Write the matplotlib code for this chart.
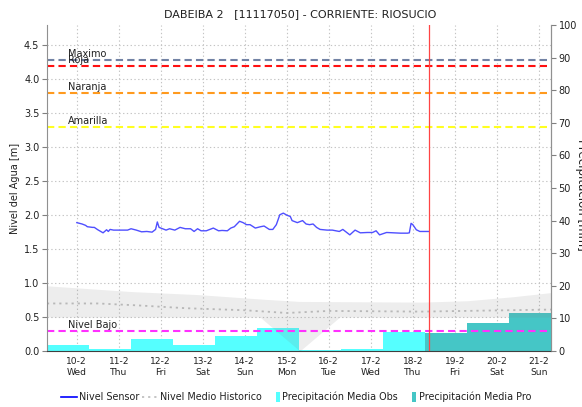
import numpy as np
import matplotlib
matplotlib.use("Agg")
import matplotlib.pyplot as plt
from matplotlib.patches import Patch, Rectangle
from matplotlib.lines import Line2D
from matplotlib.legend_handler import HandlerPatch

plt.rcParams['font.family'] = ['DejaVu Sans']

# ---------------- data ----------------
title = "DABEIBA 2   [11117050] - CORRIENTE: RIOSUCIO"
day_ticks = list(range(12))  # days since 10-2 00:00
day_labels = ['10-2\nWed', '11-2\nThu', '12-2\nFri', '13-2\nSat', '14-2\nSun', '15-2\nMon',
              '16-2\nTue', '17-2\nWed', '18-2\nThu', '19-2\nFri', '20-2\nSat', '21-2\nSun']

# sensor water level (hours since 10-2 00:00, metres)
sensor_hours = [0, 3, 5, 6, 9, 10, 12, 15, 17, 18, 19, 21, 25, 29, 31, 34, 37, 40, 43, 45, 46, 47,
                49, 51, 53, 56, 59, 62, 65, 67, 69, 71, 74, 78, 81, 83, 86, 88, 90, 93, 95, 97, 99,
                102, 105, 107, 110, 112, 114, 116, 118, 120, 122, 123, 126, 127, 129, 131, 133, 135,
                137, 139, 143, 146, 150, 152, 156, 159, 162, 166, 169, 171, 173, 177, 181, 185, 189,
                190, 191, 192, 194, 196, 200, 201]
sensor_level = [1.89, 1.87, 1.85, 1.83, 1.82, 1.82, 1.785, 1.74, 1.785, 1.76, 1.79, 1.78, 1.78, 1.78,
                1.80, 1.78, 1.755, 1.76, 1.75, 1.79, 1.90, 1.82, 1.80, 1.78, 1.80, 1.78, 1.82, 1.80,
                1.80, 1.76, 1.80, 1.77, 1.77, 1.81, 1.77, 1.775, 1.77, 1.81, 1.83, 1.91, 1.89, 1.86,
                1.86, 1.81, 1.83, 1.84, 1.79, 1.79, 1.86, 2.006, 2.03, 2.00, 1.98, 1.92, 1.89, 1.90,
                1.92, 1.87, 1.86, 1.87, 1.82, 1.79, 1.78, 1.78, 1.76, 1.79, 1.71, 1.78, 1.74, 1.745,
                1.745, 1.77, 1.71, 1.745, 1.74, 1.735, 1.735, 1.74, 1.88, 1.86, 1.785, 1.76, 1.76, 1.76]
now_hour = 201

# historical band and median (days since 10-2 00:00, metres)
band_upper_days = [-0.71, 1.3, 2.9, 4.5, 5.3, 8.2, 9.3, 10.4, 11.29]
band_upper = [0.96, 0.875, 0.83, 0.76, 0.73, 0.72, 0.74, 0.80, 0.86]
band_lower_days = [-0.71, 4.36, 5.31, 6.26, 11.29]
band_lower = [0.50, 0.50, 0.0, 0.50, 0.50]
median_days = [-0.71, 0.5, 1.5, 2.6, 4.0, 5.0, 6.0, 8.2, 11.29]
median_level = [0.70, 0.70, 0.67, 0.63, 0.60, 0.56, 0.59, 0.58, 0.61]

# thresholds (m)
threshold_names = ['Maximo', 'Roja', 'Naranja', 'Amarilla', 'Nivel Bajo']
threshold_values = [4.29, 4.20, 3.80, 3.30, 0.30]
threshold_colors = ['#7282A4', '#FF1010', '#FF9A1E', '#FFFF20', '#FF30FF']

# daily precipitation (7:00 to 7:00), mm
obs_start_days = [-0.71, 0.29, 1.29, 2.29, 3.29, 4.29, 5.29, 6.29, 7.29]
obs_precip = [1.75, 0.5, 3.7, 1.75, 4.6, 7.0, 0.3, 0.5, 5.8]
pro_start_days = [8.29, 9.29, 10.29]
pro_precip = [5.6, 8.5, 11.7]

YMAX_M = 4.8
YMAX_MM = 100.0


def mm_to_m(v):
    return np.asarray(v) * YMAX_M / YMAX_MM


def m_to_mm(v):
    return np.asarray(v) * YMAX_MM / YMAX_M


# ---------------- figure ----------------
fig = plt.figure(figsize=(5.82, 4.07), dpi=100)
ax = fig.add_axes([47 / 582, 56 / 407, 504 / 582, 326 / 407])
ax.set_xlim(-0.71, 11.29)
ax.set_ylim(0, YMAX_M)
ax.set_axisbelow(True)

# precipitation bars
ax.bar(obs_start_days, mm_to_m(obs_precip), width=1.0, align='edge',
       color='#55FFFF', edgecolor='none', zorder=1.5)
ax.bar(pro_start_days, mm_to_m(pro_precip), width=1.0, align='edge',
       color='#45C6C6', edgecolor='none', zorder=1.5)

# historical band
xs = np.linspace(-0.71, 11.29, 600)
up = np.interp(xs, band_upper_days, band_upper)
lo = np.interp(xs, band_lower_days, band_lower)
ax.fill_between(xs, lo, up, color='#808080', alpha=0.14, linewidth=0, zorder=2)
ax.plot(median_days, median_level, color='#B8B8B8', lw=1.3, ls=(0, (1.2, 2.2)), zorder=2.2)

# thresholds
for name, val, col in zip(threshold_names, threshold_values, threshold_colors):
    ax.axhline(val, color=col, lw=1.5, ls=(0, (3.5, 2.0)), zorder=2.5)
    ax.text(-0.22, val + 0.015, name, fontsize=7, color='#202020', ha='left', va='bottom', zorder=4)

# sensor
sensor_days = np.array(sensor_hours) / 24.0
ax.plot(sensor_days, sensor_level, color='#4F4FFF', lw=1.0, zorder=3)
ax.axvline(now_hour / 24.0, color='#FF4444', lw=0.9, zorder=3.5)

# axes styling
ax.set_yticks(np.arange(0, 4.51, 0.5))
ax.set_yticklabels([f"{v:.1f}" for v in np.arange(0, 4.51, 0.5)])
ax.set_xticks(day_ticks)
ax.set_xticklabels(day_labels, fontsize=6.6, color='#202020', linespacing=1.35)
ax.tick_params(axis='y', labelsize=7, colors='#202020', length=3.5, color='#808080', pad=2)
ax.tick_params(axis='x', length=0, pad=4)
ax.grid(True, color='#C4C4C4', ls=(0, (1.2, 2.2)), lw=0.8)
ax.spines['top'].set_visible(False)
ax.spines['left'].set_color('#909090')
ax.spines['right'].set_color('#909090')
ax.spines['bottom'].set_color('#404040')
ax.spines['bottom'].set_linestyle((0, (1, 1)))
ax.set_ylabel('Nivel del Agua [m]', fontsize=7, color='#202020', labelpad=3)

sec = ax.secondary_yaxis('right', functions=(m_to_mm, mm_to_m))
sec.set_yticks(np.arange(0, 101, 10))
sec.tick_params(labelsize=7, colors='#202020', length=3.5, color='#808080', pad=2)
sec.spines['right'].set_color('#909090')
fig.text(581.5 / 582, 0.52, 'Precipitación [mm]', rotation=270, fontsize=8.5, color='#202020',
         ha='center', va='center')

fig.text(0.515, 1 - 14 / 407, title, fontsize=8, ha='center', va='center', color='#202020')


# legend
class NarrowPatchHandler(HandlerPatch):
    def create_artists(self, legend, orig_handle, xdescent, ydescent, width, height, fontsize, trans):
        h = height * 1.5
        w = height * 0.6
        p = Rectangle((-xdescent + width - w, -ydescent - (h - height) / 2), w, h,
                      facecolor=orig_handle.get_facecolor(), edgecolor='none', transform=trans)
        return [p]


handles = [Line2D([], [], color='#0000FF', lw=1.2),
           Line2D([], [], color='#C0C0C0', lw=1.3, ls=(0, (1.2, 2.2))),
           Patch(facecolor='#55FFFF'),
           Patch(facecolor='#45C6C6')]
labels = ['Nivel Sensor', 'Nivel Medio Historico', 'Precipitación Media Obs', 'Precipitación Media Pro']
fig.legend(handles, labels, loc='center', bbox_to_anchor=(0.509, 10 / 407), ncol=4, frameon=False,
           fontsize=6.9, handlelength=1.6, handletextpad=0.25, columnspacing=0.3,
           handler_map={Patch: NarrowPatchHandler()}, labelcolor='#202020')

fig.savefig('out.png', dpi=100)
